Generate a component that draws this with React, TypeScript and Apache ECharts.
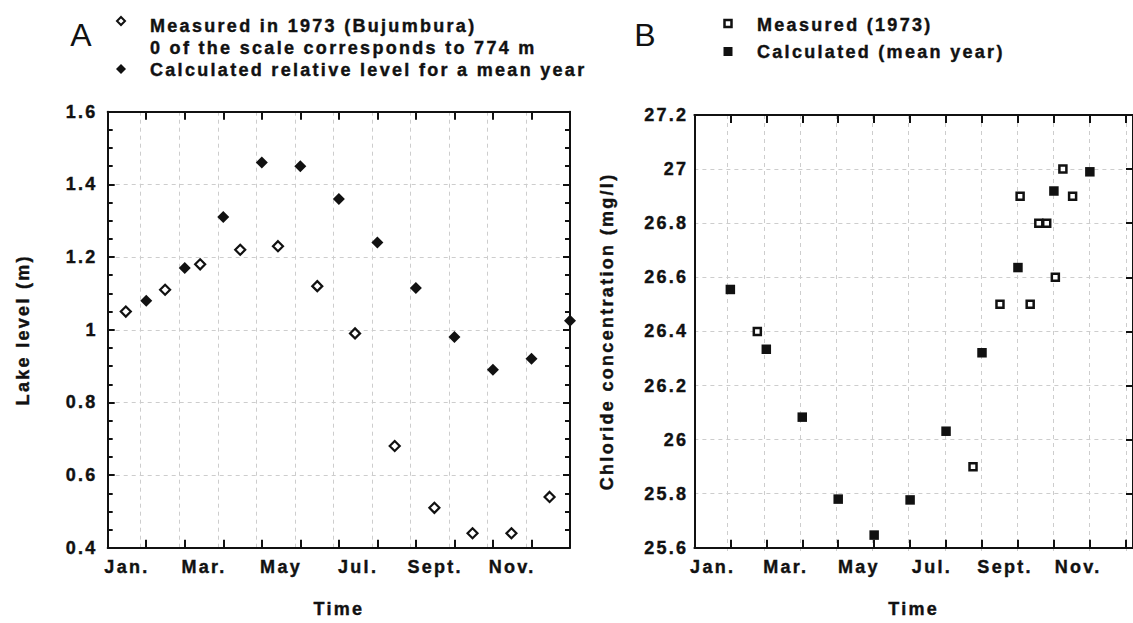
import React, { useEffect, useRef } from 'react';
import * as echarts from 'echarts';

// ---------- data ----------
const MONTH_LABELS = ['Jan.', '', 'Mar.', '', 'May', '', 'Jul.', '', 'Sept.', '', 'Nov.', ''];

// Panel A : lake level (m)
const LEVEL_MEASURED_X = [0.47, 1.49, 2.4, 3.44, 4.42, 5.44, 6.42, 7.45, 8.48, 9.47, 10.48, 11.47];
const LEVEL_MEASURED = [1.05, 1.11, 1.18, 1.22, 1.23, 1.12, 0.99, 0.68, 0.51, 0.44, 0.44, 0.54];
const LEVEL_CALC_X = [1, 2, 3, 4, 5, 6, 7, 8, 9, 10, 11, 12];
const LEVEL_CALC = [1.08, 1.17, 1.31, 1.46, 1.45, 1.36, 1.24, 1.115, 0.98, 0.89, 0.92, 1.025];

// Panel B : chloride concentration (mg/l)
const CL_MEASURED_X = [1.75, 7.75, 8.5, 9.06, 9.34, 9.58, 9.8, 10.04, 10.25, 10.52];
const CL_MEASURED = [26.4, 25.9, 26.5, 26.9, 26.5, 26.8, 26.8, 26.6, 27.0, 26.9];
const CL_CALC_X = [1, 2, 3, 4, 5, 6, 7, 8, 9, 10, 11];
const CL_CALC = [26.555, 26.334, 26.083, 25.78, 25.647, 25.777, 26.031, 26.321, 26.636, 26.919, 26.99];

const LEGEND_A = [
  'Measured in 1973 (Bujumbura)',
  '0 of the scale corresponds to 774 m',
  'Calculated relative level for a mean year',
];
const LEGEND_B = ['Measured (1973)', 'Calculated (mean year)'];

// ---------- style ----------
const FONT = '"Liberation Sans", Arial, sans-serif';
const INK = '#111111';
const GRID_COLOR = '#cdcdcd';

const zip = (xs: number[], ys: number[]) => xs.map((x, i) => [x, ys[i]]);

const labelStyle = {
  color: INK,
  fontFamily: FONT,
  fontWeight: 'bold' as const,
  fontSize: 18,
  textBorderColor: INK,
  textBorderWidth: 0.4,
};

function frameX(gridIndex: number, position: 'top' | 'bottom', max: number) {
  return {
    type: 'value',
    gridIndex,
    position,
    min: 0,
    max,
    interval: 1,
    axisLine: { show: true, onZero: false, lineStyle: { color: INK, width: 2 } },
    axisTick: { show: true, inside: true, length: 8, lineStyle: { color: INK, width: 2 } },
    axisLabel: { show: false },
    splitLine: { show: false },
  };
}

function labelX(gridIndex: number) {
  return {
    type: 'category',
    gridIndex,
    position: 'bottom',
    data: MONTH_LABELS,
    boundaryGap: true,
    axisLine: { show: false },
    axisTick: { show: false },
    axisLabel: { show: true, interval: 0, margin: 19, verticalAlign: 'middle', ...labelStyle },
    splitLine: { show: false },
    name: 'Time',
    nameLocation: 'middle',
    nameGap: 61,
    nameTextStyle: { ...labelStyle, verticalAlign: 'middle' },
  };
}

function gridLineX(gridIndex: number, max: number) {
  return {
    type: 'value',
    gridIndex,
    min: 0,
    max,
    interval: 1,
    axisLine: { show: false },
    axisTick: { show: false },
    axisLabel: { show: false },
    splitLine: { show: true, showMinLine: false, showMaxLine: false, lineStyle: { color: GRID_COLOR, type: [4, 4], width: 1 } },
  };
}

const legendFont = `bold 18px ${FONT}`;
const legendText = (text: string, x: number, y: number) => ({
  type: 'text',
  x,
  y,
  style: { text, font: legendFont, fill: INK, stroke: INK, lineWidth: 0.4, align: 'left', verticalAlign: 'middle' },
});

const App: React.FC = () => {
  const ref = useRef<HTMLDivElement>(null);

  useEffect(() => {
    if (!ref.current) return;
    const chart = echarts.init(ref.current, undefined, { renderer: 'svg' });

    // grid geometry
    const A = { left: 107.7, top: 111.7, width: 462.3, height: 439.8 };
    const B = { left: 694.4, top: 115, width: 455, height: 437 };

    const option: any = {
      animation: false,
      backgroundColor: '#ffffff',
      grid: [
        { ...A },
        { ...B },
        { ...A, left: A.left - 5.5 },
        { ...B, left: B.left - 3 },
      ],
      xAxis: [
        frameX(0, 'bottom', 12),
        frameX(0, 'top', 12),
        labelX(0),
        frameX(1, 'bottom', 12.2),
        frameX(1, 'top', 12.2),
        labelX(1),
        gridLineX(2, 12),
        gridLineX(3, 12.2),
      ],
      yAxis: [
        {
          type: 'value',
          gridIndex: 0,
          position: 'left',
          min: 0.4,
          max: 1.6,
          interval: 0.2,
          axisLine: { show: true, onZero: false, lineStyle: { color: INK, width: 2 } },
          axisTick: { show: true, inside: true, length: 7, lineStyle: { color: INK, width: 2 } },
          minorTick: { show: true, splitNumber: 4, length: 5, lineStyle: { color: INK, width: 2 } },
          axisLabel: { show: true, margin: 10, ...labelStyle },
          splitLine: { show: true, lineStyle: { color: GRID_COLOR, type: [4, 4], width: 1 } },
          name: 'Lake level (m)',
          nameLocation: 'middle',
          nameGap: 85,
          nameTextStyle: { ...labelStyle, verticalAlign: 'middle' },
        },
        {
          type: 'value',
          gridIndex: 0,
          position: 'right',
          min: 0.4,
          max: 1.6,
          interval: 0.2,
          axisLine: { show: true, onZero: false, lineStyle: { color: INK, width: 2 } },
          axisTick: { show: true, inside: true, length: 7, lineStyle: { color: INK, width: 2 } },
          minorTick: { show: true, splitNumber: 4, length: 5, lineStyle: { color: INK, width: 2 } },
          axisLabel: { show: false },
          splitLine: { show: false },
        },
        {
          type: 'value',
          gridIndex: 1,
          position: 'left',
          min: 25.6,
          max: 27.2,
          interval: 0.2,
          axisLine: { show: true, onZero: false, lineStyle: { color: INK, width: 2 } },
          axisTick: { show: false },
          axisLabel: { show: true, margin: 6, ...labelStyle },
          splitLine: { show: true, lineStyle: { color: GRID_COLOR, type: [4, 4], width: 1 } },
          name: 'Chloride concentration (mg/l)',
          nameLocation: 'middle',
          nameGap: 87,
          nameTextStyle: { ...labelStyle, verticalAlign: 'middle' },
        },
        {
          type: 'value',
          gridIndex: 1,
          position: 'right',
          min: 25.6,
          max: 27.2,
          interval: 0.2,
          axisLine: { show: true, onZero: false, lineStyle: { color: INK, width: 2 } },
          axisTick: { show: true, inside: true, length: 7, lineStyle: { color: INK, width: 2 } },
          axisLabel: { show: false },
          splitLine: { show: false },
        },
        { type: 'value', gridIndex: 2, show: false, min: 0, max: 1 },
        { type: 'value', gridIndex: 3, show: false, min: 0, max: 1 },
      ],
      series: [
        {
          name: LEGEND_A[0],
          type: 'scatter',
          xAxisIndex: 0,
          yAxisIndex: 0,
          data: zip(LEVEL_MEASURED_X, LEVEL_MEASURED),
          symbol: 'diamond',
          symbolSize: 10,
          clip: false,
          silent: true,
          itemStyle: { color: '#ffffff', borderColor: INK, borderWidth: 2.2, opacity: 1 },
        },
        {
          name: LEGEND_A[2],
          type: 'scatter',
          xAxisIndex: 0,
          yAxisIndex: 0,
          data: zip(LEVEL_CALC_X, LEVEL_CALC),
          symbol: 'diamond',
          symbolSize: 12,
          clip: false,
          silent: true,
          itemStyle: { color: INK, opacity: 1 },
        },
        {
          name: LEGEND_B[0],
          type: 'scatter',
          xAxisIndex: 3,
          yAxisIndex: 2,
          data: zip(CL_MEASURED_X, CL_MEASURED),
          symbol: 'rect',
          symbolSize: 7,
          clip: false,
          silent: true,
          itemStyle: { color: '#ffffff', borderColor: INK, borderWidth: 2.5, opacity: 1 },
        },
        {
          name: LEGEND_B[1],
          type: 'scatter',
          xAxisIndex: 3,
          yAxisIndex: 2,
          data: zip(CL_CALC_X, CL_CALC),
          symbol: 'rect',
          symbolSize: 9.5,
          clip: false,
          silent: true,
          itemStyle: { color: INK, opacity: 1 },
        },
      ],
      graphic: [
        // panel letters
        { type: 'text', x: 82, y: 35, style: { text: 'A', font: `normal 32px ${FONT}`, fill: INK, align: 'center', verticalAlign: 'middle' } },
        { type: 'text', x: 646, y: 35, style: { text: 'B', font: `normal 32px ${FONT}`, fill: INK, align: 'center', verticalAlign: 'middle' } },
        // legend A
        { type: 'polygon', shape: { points: [[121, 17], [125, 21], [121, 25], [117, 21]] }, style: { fill: '#fff', stroke: INK, lineWidth: 2 } },
        legendText(LEGEND_A[0], 150, 25.5),
        legendText(LEGEND_A[1], 150, 47.5),
        { type: 'polygon', shape: { points: [[121, 64], [126, 69], [121, 74], [116, 69]] }, style: { fill: INK } },
        legendText(LEGEND_A[2], 150, 70),
        // legend B
        { type: 'rect', shape: { x: 724.5, y: 20, width: 7, height: 7 }, style: { fill: '#fff', stroke: INK, lineWidth: 2.5 } },
        legendText(LEGEND_B[0], 757, 25),
        { type: 'rect', shape: { x: 723.5, y: 47, width: 9, height: 9 }, style: { fill: INK } },
        legendText(LEGEND_B[1], 757, 52),
      ],
    };

    chart.setOption(option);
    return () => chart.dispose();
  }, []);

  return (
    <div style={{ position: 'fixed', left: 0, top: 0, width: 1133, height: 623, overflow: 'hidden', background: '#fff' }}>
      <style>{`.lake-chart text { letter-spacing: 2.3px; }`}</style>
      <div className="lake-chart" ref={ref} style={{ width: 1133, height: 623 }} />
    </div>
  );
};

export default App;
